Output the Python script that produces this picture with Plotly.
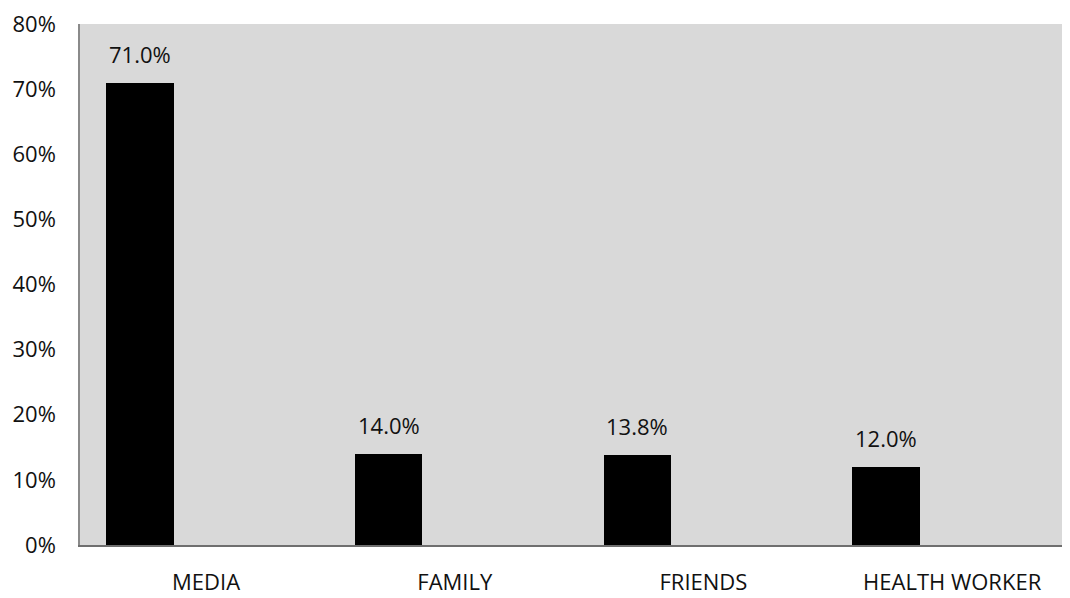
import plotly.graph_objects as go

categories = ["MEDIA", "FAMILY", "FRIENDS", "HEALTH WORKER"]
values = [71.0, 14.0, 13.8, 12.0]
value_labels = ["71.0%", "14.0%", "13.8%", "12.0%"]
y_ticks = [0, 10, 20, 30, 40, 50, 60, 70, 80]

BAR_W = 0.271
BAR_SHIFT = -0.266  # bar centre relative to category label (empty 2nd series slot)

FONT = "Open Sans"
FS = 22

fig = go.Figure()
fig.add_trace(go.Bar(
    x=list(range(len(categories))),
    y=values,
    width=BAR_W,
    offset=BAR_SHIFT - BAR_W / 2,
    marker=dict(color="#000000", line=dict(width=0)),
    hoverinfo="skip",
))

for i, (v, t) in enumerate(zip(values, value_labels)):
    fig.add_annotation(
        x=i + BAR_SHIFT, y=v, text=t, showarrow=False,
        xanchor="center", yanchor="bottom", yshift=12,
        font=dict(family=FONT, size=FS, color="#111111"),
    )

fig.update_layout(
    width=1062, height=590,
    margin=dict(l=72, r=0, t=16, b=53),
    paper_bgcolor="white",
    plot_bgcolor="#d9d9d9",
    showlegend=False,
    bargap=0,
    font=dict(family=FONT, size=FS, color="#111111"),
)
fig.update_xaxes(
    range=[-0.507, 3.474],
    tickmode="array",
    tickvals=list(range(len(categories))),
    ticktext=categories,
    showgrid=False, zeroline=False,
    showline=True, linecolor="#6f6f6f", linewidth=1.5,
    ticks="", ticklabelstandoff=17,
    automargin=False,
    tickfont=dict(family=FONT, size=FS, color="#111111"),
)
fig.update_yaxes(
    range=[0, 80.001],
    tickmode="array",
    tickvals=y_ticks,
    ticktext=[f"{t}%" for t in y_ticks],
    showgrid=False, zeroline=False,
    showline=True, linecolor="#8a8a8a", linewidth=1.5,
    ticks="", ticklabelstandoff=18,
    ticklabeloverflow="allow",
    automargin=False,
    tickfont=dict(family=FONT, size=FS, color="#111111"),
)

fig.write_html("out.html")
